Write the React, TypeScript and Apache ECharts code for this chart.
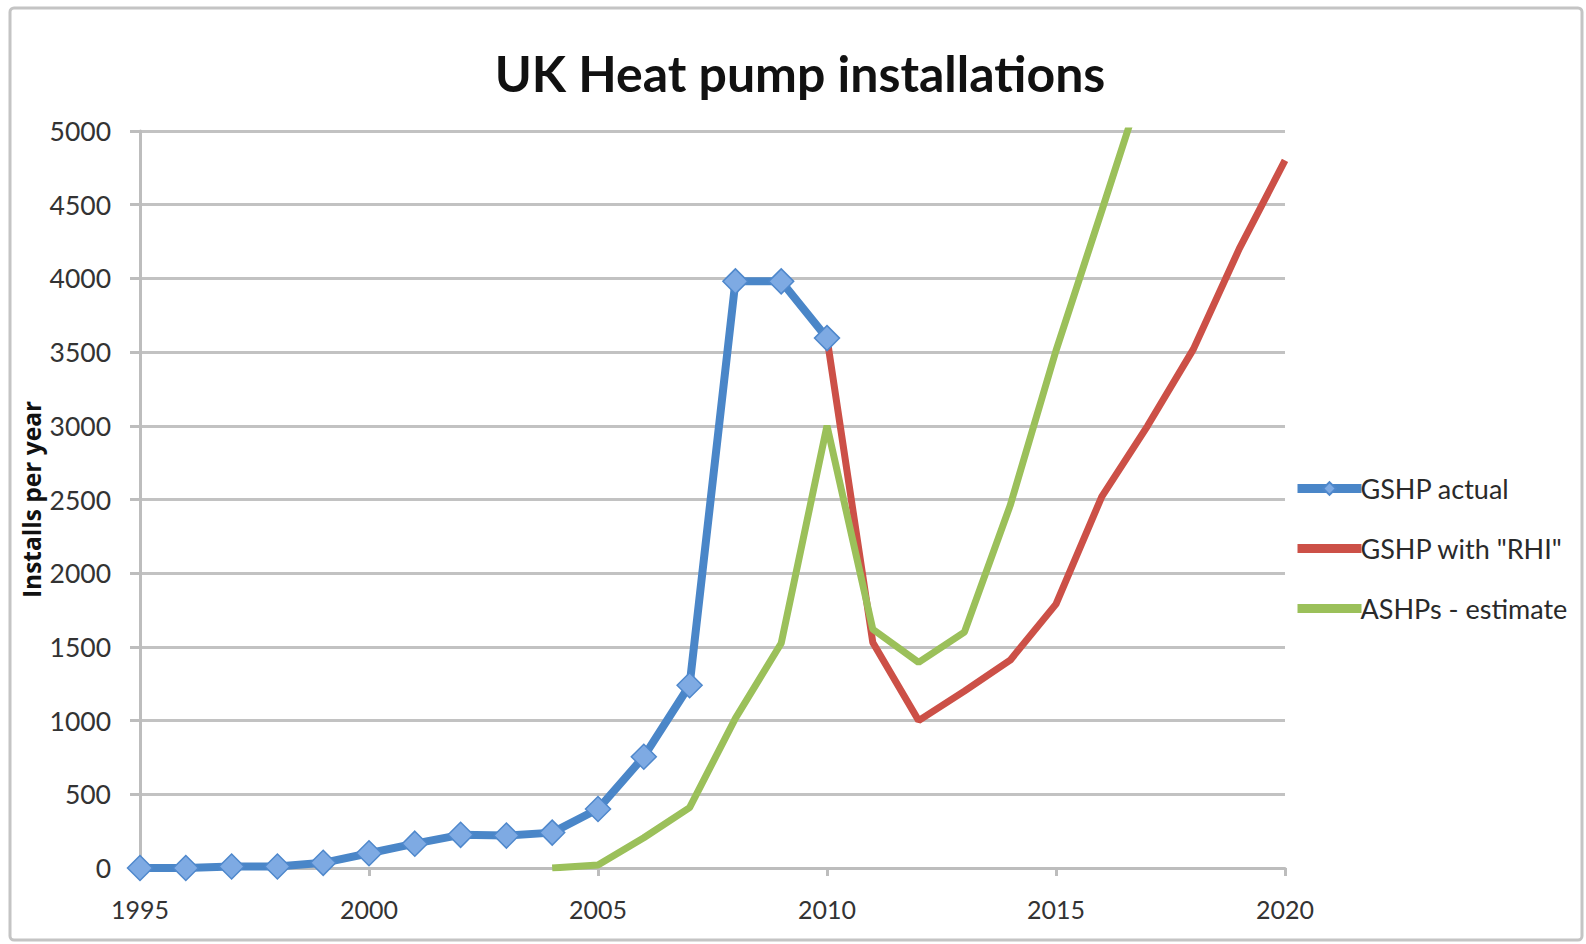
import React, { useEffect, useRef } from "react";
import * as echarts from "echarts";

const years = [1995, 1996, 1997, 1998, 1999, 2000, 2001, 2002, 2003, 2004, 2005, 2006, 2007, 2008, 2009, 2010, 2011, 2012, 2013, 2014, 2015, 2016, 2017, 2018, 2019, 2020];
const gshpActual = [0, 0, 10, 10, 35, 100, 165, 225, 220, 240, 400, 755, 1240, 3980, 3980, 3595, null, null, null, null, null, null, null, null, null, null];
const gshpRhi = [null, null, null, null, null, null, null, null, null, null, null, null, null, null, null, 3595, 1530, 1000, 1200, 1410, 1790, 2520, 3000, 3520, 4200, 4800];
const ashp = [null, null, null, null, null, null, null, null, null, 0, 20, 205, 410, 1015, 1525, 3000, 1620, 1395, 1600, 2460, 3510, 4460, 5420, null, null, null];
const xTicks = [1995, 2000, 2005, 2010, 2015, 2020];
const yTicks = [0, 500, 1000, 1500, 2000, 2500, 3000, 3500, 4000, 4500, 5000];

const seriesNames = ["GSHP actual", 'GSHP with "RHI"', "ASHPs - estimate"];

const toPairs = (vals: (number | null)[]) =>
  years.map((y, i) => [y, vals[i]]).filter((p) => p[1] !== null);

export default function App() {
  const ref = useRef<HTMLDivElement>(null);
  useEffect(() => {
    if (!ref.current) return;
    const chart = echarts.init(ref.current, null, { renderer: "svg" });
    const font = "Lato";
    chart.setOption({
      animation: false,
      backgroundColor: "#ffffff",
      title: {
        text: "UK Heat pump installations",
        left: 795,
        top: 43,
        textAlign: "center",
        textStyle: { fontFamily: font, fontWeight: "bold", fontSize: 50, color: "#111111" },
      },
      graphic: [
        {
          type: "rect",
          shape: { x: 10, y: 8, width: 1572, height: 932, r: 4 },
          style: { fill: "none", stroke: "#c4c4c4", lineWidth: 3 },
          silent: true,
        },
      ],
      grid: { left: 140, right: 301, top: 131, bottom: 76, containLabel: false },
      legend: {
        orient: "vertical",
        left: 1293,
        top: 475,
        padding: 0,
        itemWidth: 64,
        itemHeight: 16,
        itemGap: 33,
        lineStyle: { width: 9 },
        data: [
          { name: seriesNames[0] },
          { name: seriesNames[1], itemStyle: { opacity: 0 } },
          { name: seriesNames[2], itemStyle: { opacity: 0 } },
        ],
        textStyle: { fontFamily: font, fontSize: 27, color: "#2a2a2a", padding: [0, 0, 0, -6] },
      },
      xAxis: {
        type: "value",
        min: years[0],
        max: years[years.length - 1],
        interval: 5,
        axisLine: { lineStyle: { color: "#bdbdbd", width: 3 } },
        axisTick: { show: true, length: 8, lineStyle: { color: "#bdbdbd", width: 3 }, customValues: xTicks },
        axisLabel: {
          margin: 28,
          fontFamily: font,
          fontSize: 25,
          color: "#333333",
          formatter: (v: number) => String(v),
          customValues: xTicks,
        },
        splitLine: { show: false },
      },
      yAxis: {
        type: "value",
        min: 0,
        max: 5000,
        interval: 500,
        name: "Installs per year",
        nameLocation: "middle",
        nameGap: 96,
        nameMoveOverlap: false,
        nameTextStyle: { fontFamily: "Open Sans", fontWeight: "bold", fontSize: 24.5, color: "#111111" },
        axisLine: { show: true, lineStyle: { color: "#bdbdbd", width: 3 } },
        axisTick: { show: true, length: 10, lineStyle: { color: "#bdbdbd", width: 3 }, customValues: yTicks },
        axisLabel: {
          margin: 29,
          fontFamily: font,
          fontSize: 26.5,
          color: "#333333",
          formatter: (v: number) => String(v),
          customValues: yTicks,
        },
        splitLine: { show: true, lineStyle: { color: "#c2c2c2", width: 3 } },
      },
      series: [
        {
          name: seriesNames[0],
          type: "line",
          data: toPairs(gshpActual),
          symbol: "diamond",
          symbolSize: 25,
          showSymbol: true,
          color: "#4a86c8",
          lineStyle: { color: "#4a86c8", width: 8 },
          itemStyle: { color: "#7eaae3", borderColor: "#4f88cc", borderWidth: 1.5 },
        },
        {
          name: seriesNames[1],
          type: "line",
          data: toPairs(gshpRhi),
          symbol: "none",
          color: "#cc5047",
          lineStyle: { color: "#cc5047", width: 7 },
        },
        {
          name: seriesNames[2],
          type: "line",
          data: toPairs(ashp),
          symbol: "none",
          color: "#9bc05a",
          lineStyle: { color: "#9bc05a", width: 7 },
        },
      ],
    });
    return () => chart.dispose();
  }, []);
  return (
    <div
      ref={ref}
      style={{ position: "fixed", left: 0, top: 0, width: 1586, height: 944 }}
    />
  );
}
